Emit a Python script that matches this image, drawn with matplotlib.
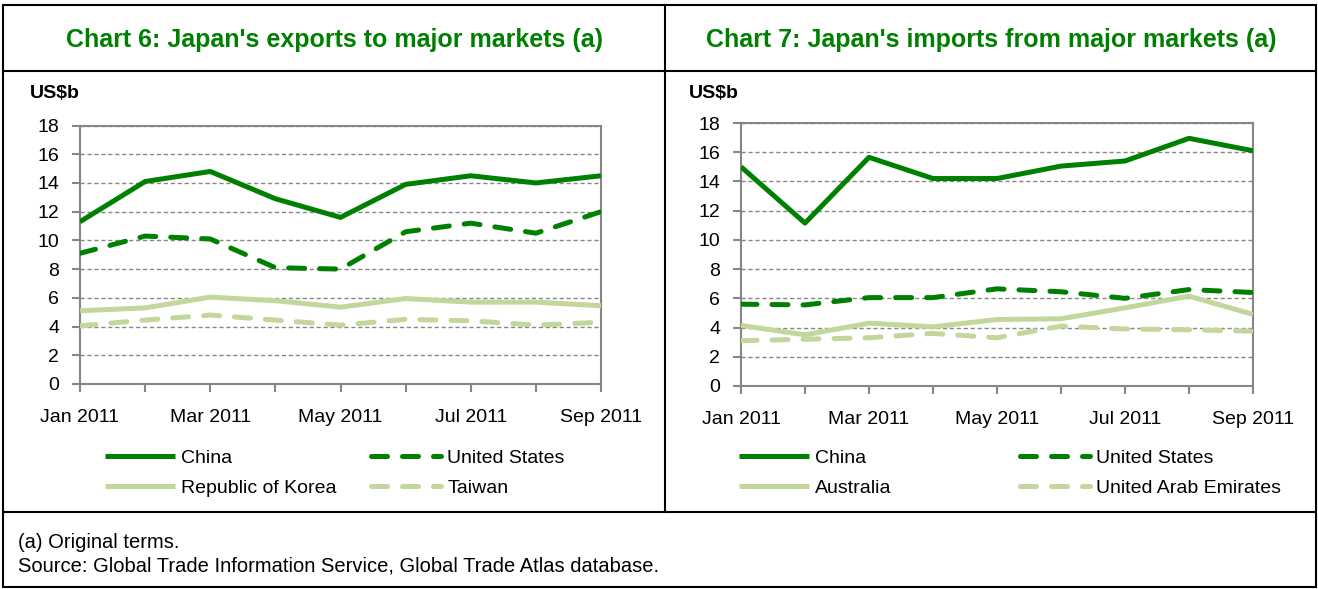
import matplotlib.pyplot as plt
from matplotlib.lines import Line2D
from matplotlib.patches import Rectangle

plt.rcParams['font.family'] = ['Liberation Sans', 'DejaVu Sans']

months = ['Jan 2011', 'Feb 2011', 'Mar 2011', 'Apr 2011', 'May 2011',
          'Jun 2011', 'Jul 2011', 'Aug 2011', 'Sep 2011']

# Chart 6: exports (US$b)
exp_china = [11.3, 14.1, 14.8, 12.9, 11.6, 13.9, 14.5, 14.0, 14.5]
exp_us = [9.1, 10.3, 10.1, 8.1, 8.0, 10.6, 11.2, 10.5, 12.0]
exp_korea = [5.1, 5.3, 6.05, 5.8, 5.35, 5.95, 5.7, 5.7, 5.45]
exp_taiwan = [4.05, 4.45, 4.8, 4.45, 4.1, 4.5, 4.4, 4.1, 4.3]

# Chart 7: imports (US$b)
imp_china = [15.0, 11.15, 15.65, 14.2, 14.2, 15.05, 15.4, 16.95, 16.1]
imp_us = [5.6, 5.55, 6.05, 6.05, 6.65, 6.45, 6.0, 6.6, 6.4]
imp_aus = [4.15, 3.5, 4.3, 4.05, 4.55, 4.6, 5.35, 6.15, 4.9]
imp_uae = [3.1, 3.2, 3.3, 3.6, 3.3, 4.1, 3.9, 3.85, 3.75]

dark = '#008000'
light = '#c3d69b'
grey = '#868686'

W, H = 1318, 589
fig = plt.figure(figsize=(W / 100, H / 100), dpi=100)


def fx(px):
    return px / W


def fy(py):
    return 1 - py / H


def draw_panel(rect, series, names, legend_xy, colspace):
    ax = fig.add_axes(rect)
    x = list(range(len(months)))
    styles = [(dark, '-'), (dark, (0, (3.2, 3.0))), (light, '-'), (light, (0, (3.2, 3.0)))]
    handles = []
    for vals, name, (c, ls) in zip(series, names, styles):
        ln, = ax.plot(x, vals, color=c, linestyle=ls, lw=3.6, label=name,
                      dash_capstyle='round', solid_capstyle='butt', zorder=3)
        handles.append(ln)
    ax.set_xlim(0, len(months) - 1)
    ax.set_ylim(0, 18)
    ax.set_yticks(range(0, 19, 2))
    ax.set_xticks(x)
    ax.set_xticklabels([m if i % 2 == 0 else '' for i, m in enumerate(months)])
    ax.yaxis.grid(True, linestyle=(0, (3, 2)), color=grey, lw=1.0)
    ax.set_axisbelow(True)
    for s in ax.spines.values():
        s.set_color(grey)
        s.set_linewidth(1.5)
    ax.tick_params(axis='both', colors=grey, labelcolor='black', labelsize=14,
                   length=6, width=1.5)
    ax.tick_params(axis='x', pad=12)
    ax.tick_params(axis='y', pad=9)
    order = [0, 2, 1, 3]
    fig.legend([handles[i] for i in order], [names[i] for i in order], ncol=2,
               loc='upper left', bbox_to_anchor=legend_xy, frameon=False,
               fontsize=14, handlelength=3.6, handletextpad=0.3,
               columnspacing=colspace, labelspacing=0.65, borderpad=0,
               borderaxespad=0)
    return ax


draw_panel([fx(80), fy(384), fx(601) - fx(80), fy(125.5) - fy(384)],
           [exp_china, exp_us, exp_korea, exp_taiwan],
           ['China', 'United States', 'Republic of Korea', 'Taiwan'],
           (fx(105), fy(449)), 1.8)
draw_panel([fx(741), fy(386), fx(1253) - fx(741), fy(123) - fy(386)],
           [imp_china, imp_us, imp_aus, imp_uae],
           ['China', 'United States', 'Australia', 'United Arab Emirates'],
           (fx(739), fy(449)), 6.6)

# titles and units
fig.text(fx(334), fy(40), "Chart 6: Japan's exports to major markets (a)",
         ha='center', va='center', fontsize=18, fontweight='bold', color=dark)
fig.text(fx(991), fy(40), "Chart 7: Japan's imports from major markets (a)",
         ha='center', va='center', fontsize=18, fontweight='bold', color=dark)
fig.text(fx(30), fy(93), 'US$b', ha='left', va='center', fontsize=14, fontweight='bold')
fig.text(fx(689), fy(93), 'US$b', ha='left', va='center', fontsize=14, fontweight='bold')

# footnotes
fig.text(fx(18), fy(542), '(a) Original terms.', ha='left', va='center', fontsize=14.5)
fig.text(fx(18), fy(566), 'Source: Global Trade Information Service, Global Trade Atlas database.',
         ha='left', va='center', fontsize=14.5)

# frame lines
fig.add_artist(Rectangle((fx(3), fy(587)), fx(1316) - fx(3), fy(5) - fy(587),
                         fill=False, edgecolor='black', lw=1.5, transform=fig.transFigure))
fig.add_artist(Line2D([fx(3), fx(1316)], [fy(71), fy(71)], color='black', lw=1.5))
fig.add_artist(Line2D([fx(3), fx(1316)], [fy(512), fy(512)], color='black', lw=1.5))
fig.add_artist(Line2D([fx(665), fx(665)], [fy(5), fy(512)], color='black', lw=1.5))

fig.savefig('out.png', dpi=100)
